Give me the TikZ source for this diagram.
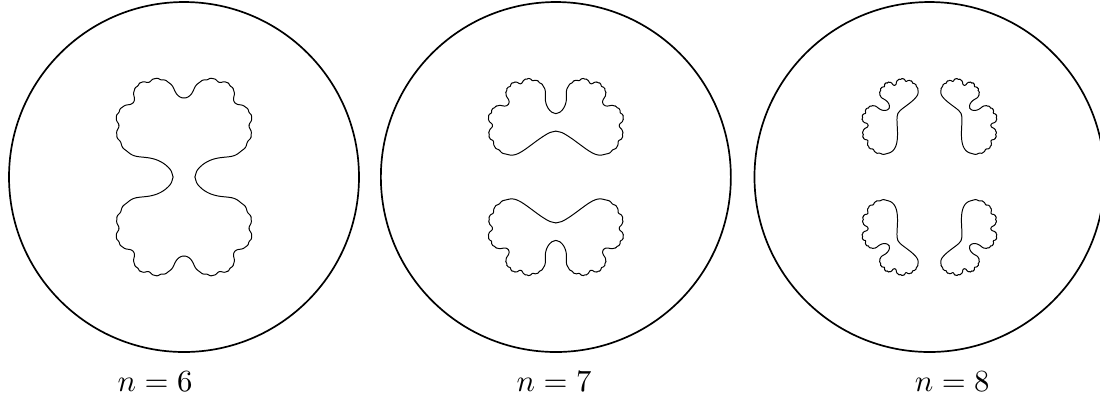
\documentclass[tikz,border=0pt]{standalone}
\usetikzlibrary{calc}
\tikzset{
    disc/.style={draw,line width=0.55pt},
    level curve/.style={line width=0.32pt,line join=round,line cap=round},
    nlabel/.style={anchor=base,inner sep=0pt}
}
\def\cpar{0.4}
\def\mturn{96}

% points of |f^n(z)|=2, f(z)=z^2+c, by inverse iteration level #1 -> level #2
\newcommand\circlelevel{%
  \pgfmathtruncatemacro\jlast{\mturn-1}%
  \foreach \j in {0,...,\jlast}{%
    \pgfmathsetmacro\zu{2*cos(360/\mturn*\j)}%
    \pgfmathsetmacro\zv{2*sin(360/\mturn*\j)}%
    \expandafter\xdef\csname Lx0@\j\endcsname{\zu}%
    \expandafter\xdef\csname Ly0@\j\endcsname{\zv}}}
\newcommand\invlevel[4]{%
  \edef\jlast{\the\numexpr#3-1\relax}%
  \edef\jper{\the\numexpr#4\relax}%
  \foreach \j in {0,...,\jlast}{%
    \ifnum\j<\jper\relax\edef\jsrc{\j}\else\edef\jsrc{\the\numexpr\j-\jper\relax}\fi
    \edef\wx{\csname Lx#1@\jsrc\endcsname}%
    \edef\wy{\csname Ly#1@\jsrc\endcsname}%
    \pgfmathsetmacro\wr{veclen(\wx-\cpar,\wy)}%
    \ifdim\wx pt<\cpar pt
      \pgfmathsetmacro\zv{sqrt((\wr-(\wx-\cpar))/2)}%
      \ifdim\wy pt<0pt \pgfmathsetmacro\zv{-\zv}\fi
      \pgfmathsetmacro\zu{(\wy)/(2*(\zv))}%
    \else
      \pgfmathsetmacro\zu{sqrt((\wr+\wx-\cpar)/2)}%
      \pgfmathsetmacro\zv{(\wy)/(2*(\zu))}%
    \fi
    \ifnum\j>0
      \edef\jprev{\the\numexpr\j-1\relax}%
      \pgfmathparse{(\zu)*(\csname Lx#2@\jprev\endcsname)+(\zv)*(\csname Ly#2@\jprev\endcsname)}%
      \ifdim\pgfmathresult pt<0pt
        \pgfmathsetmacro\zu{-(\zu)}\pgfmathsetmacro\zv{-(\zv)}%
      \fi
    \fi
    \expandafter\xdef\csname Lx#2@\j\endcsname{\zu}%
    \expandafter\xdef\csname Ly#2@\j\endcsname{\zv}}}
\newcommand\drawlevel[2]{%
  \edef\np{\the\numexpr64*\mturn\relax}%
  \xdef\chunk{(\csname Lx#1@0\endcsname,\csname Ly#1@0\endcsname)}%
  \foreach \j in {1,...,\np}{%
    \ifnum\j<\np\relax\edef\jj{\j}\else\edef\jj{0}\fi
    \xdef\chunk{\chunk(\csname Lx#1@\jj\endcsname,\csname Ly#1@\jj\endcsname)}%
    \ifnum\numexpr(\j/128)*128\relax=\j\relax
      \foreach \sx/\sy in {#2}
        \draw[level curve,xscale=\sx,yscale=\sy] plot[smooth] coordinates {\chunk};
      \xdef\chunk{(\csname Lx#1@\jj\endcsname,\csname Ly#1@\jj\endcsname)}%
    \fi}}

\begin{document}
\begin{tikzpicture}
\useasboundingbox (-2.103,-2.491) rectangle (10.469,2.023);
\circlelevel
\foreach \t/\tprev/\k in {1/0/1,2/1/2,3/2/4,4/3/8,5/4/16,6/5/32}{%
    \invlevel{\tprev}{\t}{2*\k*\mturn}{\k*\mturn}}
\invlevel{6}{7}{64*\mturn}{64*\mturn}
\invlevel{7}{8}{64*\mturn}{64*\mturn}
\begin{scope}
    \draw[disc] (0,0) circle (2);
    \drawlevel{6}{1/1}
\end{scope}
\begin{scope}[xshift=4.25cm]
    \draw[disc] (0,0) circle (2);
    \drawlevel{7}{1/1,-1/-1}
\end{scope}
\begin{scope}[xshift=8.52cm]
    \draw[disc] (0,0) circle (2);
    \drawlevel{8}{1/1,-1/1,1/-1,-1/-1}
\end{scope}
\node[nlabel] (n6) at (-0.33,-2.446) {$n=6$};
\node[nlabel] (n7) at (4.23,-2.446) {$n=7$};
\node[nlabel] (n8) at (8.78,-2.446) {$n=8$};
\end{tikzpicture}
\end{document}
